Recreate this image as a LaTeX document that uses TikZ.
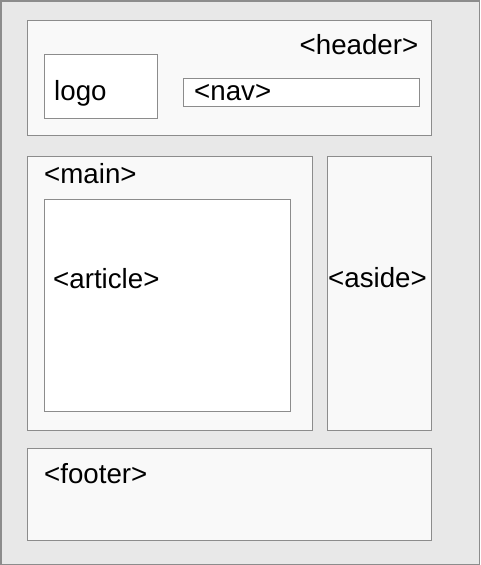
\documentclass[tikz,border=0pt]{standalone}
\usepackage{fontspec}
\setmainfont{Liberation Sans}
\usepackage{tikz}
\usetikzlibrary{positioning}
\definecolor{page}{RGB}{232,232,232}
\definecolor{panel}{RGB}{249,249,249}
\definecolor{edge}{RGB}{140,140,140}
\tikzset{
    region/.style={rectangle, draw=edge, line width=1pt, fill=panel, inner sep=0pt},
    slot/.style={rectangle, draw=edge, line width=1pt, fill=white, inner sep=0pt},
    tag/.style={inner sep=0pt, font=\fontsize{27.7}{33}\selectfont}
}
\begin{document}
\begin{tikzpicture}[x=1pt, y=-1pt]
    \useasboundingbox (0,0) rectangle (480,565);
    % Page background
    \draw[fill=page, draw=edge, line width=1.5pt] (0.75,0.75) rectangle (479.25,564.25);

    % Header
    \node[region, minimum width=404pt, minimum height=115pt] (header) at (229,77.5) {};
    \node[slot, minimum width=113pt, minimum height=64pt] (logo) at (100.5,86) {};
    \node[slot, minimum width=236pt, minimum height=28pt] (nav) at (301,92) {};
    \node[tag, anchor=base east] (headerlbl) at (418.5,54) {<header>};
    \node[tag, anchor=base west] (logolbl) at (54,100) {logo};
    \node[tag, anchor=base west] (navlbl) at (194,100) {<nav>};

    % Main and aside
    \node[region, minimum width=285pt, minimum height=274pt] (main) at (169.5,293) {};
    \node[slot, minimum width=246pt, minimum height=212pt] (article) at (167,305) {};
    \node[region, minimum width=104pt, minimum height=274pt] (aside) at (379,293) {};
    \node[tag, anchor=base west] (mainlbl) at (44,183) {<main>};
    \node[tag, anchor=base west] (articlelbl) at (53,288) {<article>};
    \node[tag, anchor=base west] (asidelbl) at (328,287) {<aside>};

    % Footer
    \node[region, minimum width=404pt, minimum height=92pt] (footer) at (229,494) {};
    \node[tag, anchor=base west] (footerlbl) at (44,483) {<footer>};
\end{tikzpicture}
\end{document}
